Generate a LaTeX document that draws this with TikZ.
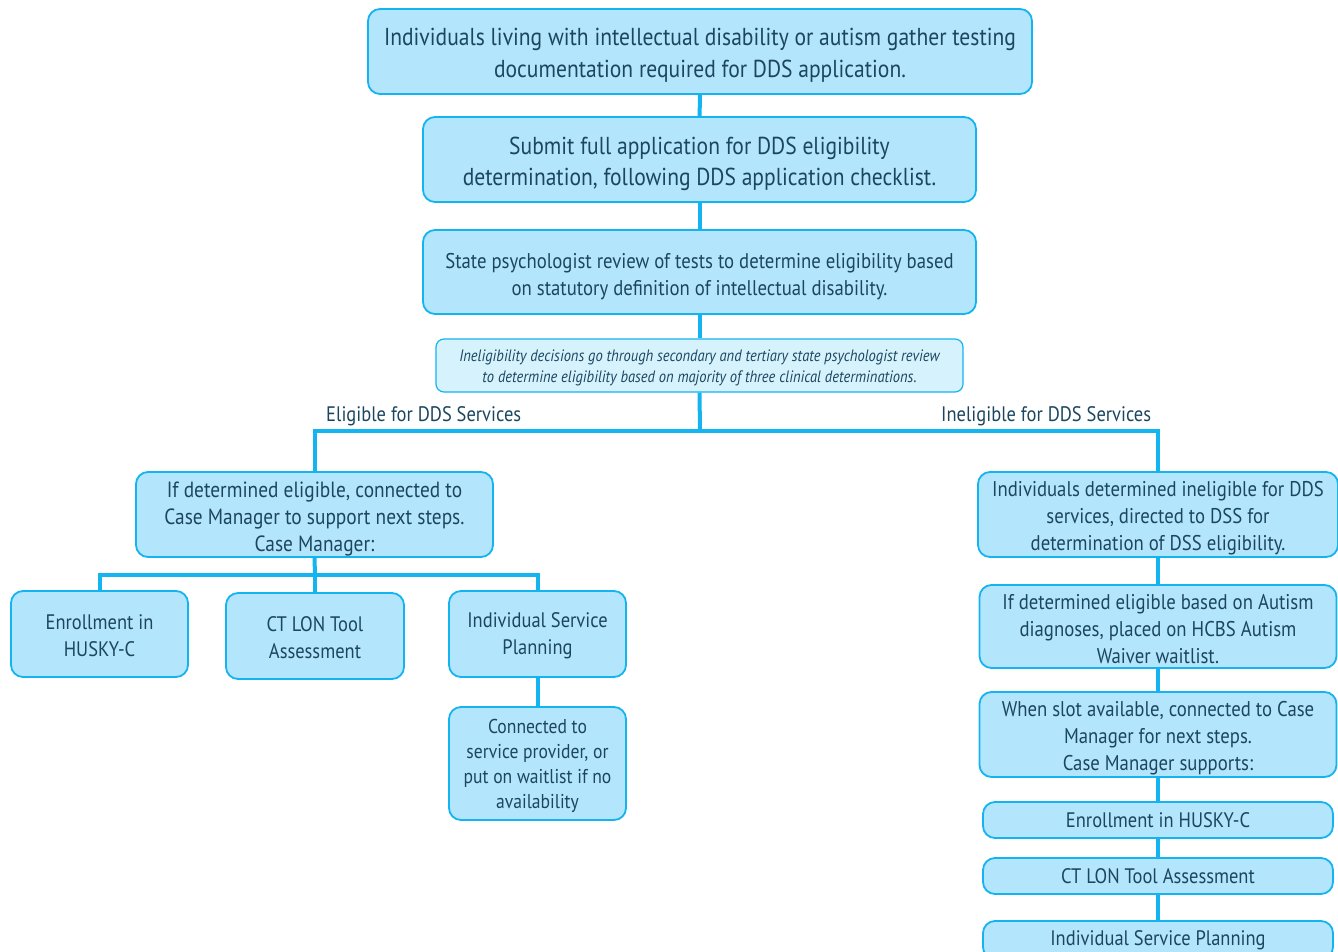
\documentclass[tikz,border=0pt]{standalone}
\usepackage{fontspec}
\setmainfont{PT Sans}[FakeStretch=0.88]
\usepackage{tikz}

\definecolor{boxfill}{RGB}{179,229,252}
\definecolor{notefill}{RGB}{214,242,253}
\definecolor{boxline}{RGB}{20,180,240}
\definecolor{txt}{RGB}{28,70,96}

% taller first line, to set the text a little lower in its box
\newcommand{\lift}[1]{\rule{0pt}{#1em}}

\tikzset{
    stepbox/.style={shape=rectangle, rounded corners=12pt, draw=boxline, line width=1.8pt,
        fill=boxfill, text=txt, align=center, inner sep=0pt},
    notebox/.style={stepbox, fill=notefill, rounded corners=8pt, line width=1.2pt},
    link/.style={draw=boxline, line width=4pt},
    branch/.style={text=txt, anchor=west, inner sep=0pt, font=\fontsize{21}{25}\selectfont}
}

\begin{document}
\begin{tikzpicture}[x=1pt, y=-1pt]
    \useasboundingbox (0,0) rectangle (1338,952);
    % main trunk
    \node[stepbox, minimum width=664, minimum height=85, font=\fontsize{24.5}{32}\selectfont] at (700,51.5) (gather)
        {\lift{1.05}Individuals living with intellectual disability or autism gather testing\\documentation required for DDS application.};
    \node[stepbox, minimum width=553, minimum height=85, font=\fontsize{24.5}{31}\selectfont] at (699.5,159.5) (submit)
        {\lift{1.05}Submit full application for DDS eligibility\\determination, following DDS application checklist.};
    \node[stepbox, minimum width=553, minimum height=84, font=\fontsize{21.3}{27}\selectfont] at (699.5,272) (review)
        {\lift{1.1}State psychologist review of tests to determine eligibility based\\on statutory definition of intellectual disability.};
    \node[notebox, minimum width=527, minimum height=53, font=\fontsize{16.5}{21}\selectfont\itshape] at (699.5,365.5) (appeal)
        {\lift{0.96}Ineligibility decisions go through secondary and tertiary state psychologist review\\to determine eligibility based on majority of three clinical determinations.};
    \coordinate (split) at (700,431);
    \node[branch] at (326,416) (yeslbl) {Eligible for DDS Services};
    \node[branch] at (941,416) (nolbl) {Ineligible for DDS Services};

    % eligible side
    \node[stepbox, minimum width=357, minimum height=85, font=\fontsize{22}{27}\selectfont] at (314.5,514.5) (elig)
        {\lift{1.08}If determined eligible, connected to\\Case Manager to support next steps.\\Case Manager:};
    \coordinate (cm) at (315,575);
    \node[stepbox, minimum width=177, minimum height=86, font=\fontsize{21}{27}\selectfont] at (99.5,634) (husky)
        {\lift{0.86}Enrollment in\\HUSKY-C};
    \node[stepbox, minimum width=178, minimum height=86, font=\fontsize{21}{27}\selectfont] at (315,636) (lon)
        {\lift{0.86}CT LON Tool\\Assessment};
    \node[stepbox, minimum width=177, minimum height=86, font=\fontsize{21}{27}\selectfont] at (537.5,634) (plan)
        {\lift{0.86}Individual Service\\Planning};
    \node[stepbox, minimum width=177, minimum height=113, font=\fontsize{20}{25}\selectfont] at (537.5,763.5) (provider)
        {\lift{0.97}Connected to\\service provider, or\\put on waitlist if no\\availability};

    % ineligible side
    \node[stepbox, minimum width=360, minimum height=85, font=\fontsize{21.3}{27}\selectfont] at (1158,514.5) (inelig)
        {\lift{1.1}Individuals determined ineligible for DDS\\services, directed to DSS for\\determination of DSS eligibility.};
    \node[stepbox, minimum width=357, minimum height=83, font=\fontsize{21.3}{27}\selectfont] at (1158,626.5) (waiver)
        {\lift{0.91}If determined eligible based on Autism\\diagnoses, placed on HCBS Autism\\Waiver waitlist.};
    \node[stepbox, minimum width=357, minimum height=85, font=\fontsize{21.3}{27}\selectfont] at (1158,734.5) (slot)
        {\lift{1.05}When slot available, connected to Case\\Manager for next steps.\\Case Manager supports:};
    \node[stepbox, minimum width=350, minimum height=36, font=\fontsize{21}{25}\selectfont] at (1158,820) (husky2)
        {Enrollment in HUSKY-C};
    \node[stepbox, minimum width=350, minimum height=36, font=\fontsize{21}{25}\selectfont] at (1158,876) (lon2)
        {CT LON Tool Assessment};
    \node[stepbox, minimum width=350, minimum height=38, font=\fontsize{21}{25}\selectfont] at (1158,940) (plan2)
        {Individual Service Planning};

    % connectors
    \path[link] (gather) -- (submit);
    \path[link] (submit) -- (review);
    \path[link] (review) -- (appeal);
    \path[link] (appeal.south) -- (split);
    \path[link] (split) -| (elig.north);
    \path[link] (split) -| (inelig.north);
    \path[link] (elig.south) -- (cm);
    \path[link] (cm) -| (husky.north);
    \path[link] (cm) -- (lon.north);
    \path[link] (cm) -| (plan.north);
    \path[link] (plan) -- (provider);
    \path[link] (inelig) -- (waiver);
    \path[link] (waiver) -- (slot);
    \path[link] (slot) -- (husky2);
    \path[link] (husky2) -- (lon2);
    \path[link] (lon2) -- (plan2);
\end{tikzpicture}
\end{document}
